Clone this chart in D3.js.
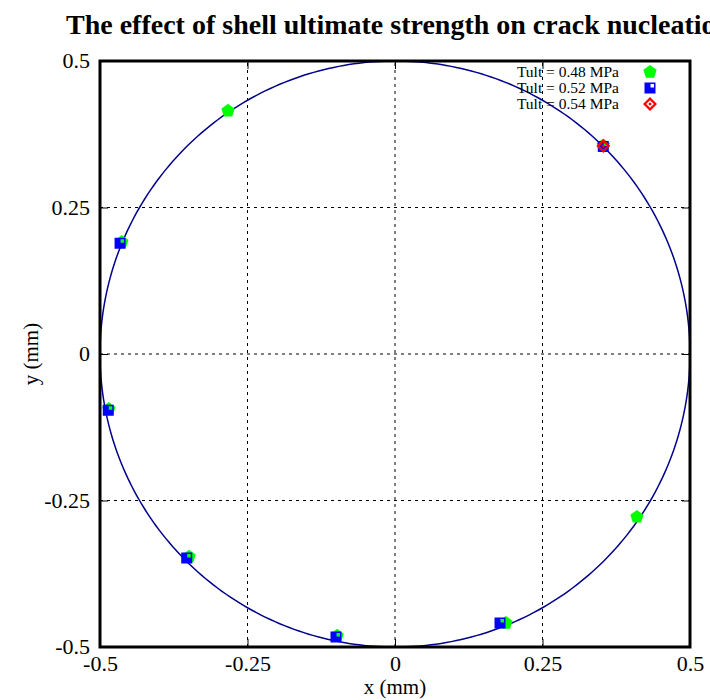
<!DOCTYPE html>
<html>
<head>
<meta charset="utf-8">
<script src="https://cdn.jsdelivr.net/npm/d3@7"></script>
<style>
  body { margin: 0; background: #fff; }
  text { font-family: "Liberation Serif", "DejaVu Serif", serif; }
</style>
</head>
<body>
<svg id="chart" width="710" height="700"></svg>
<script>
// data (mm)
const series_names = ["Tult = 0.48 MPa", "Tult = 0.52 MPa", "Tult = 0.54 MPa"];
const tult_048 = [
  [-0.283, 0.415], [0.353, 0.356], [0.410, -0.278], [0.188, -0.459],
  [-0.463, 0.191], [-0.485, -0.094], [-0.349, -0.346], [-0.098, -0.481]
];
const tult_052 = [
  [-0.466, 0.189], [-0.486, -0.096], [-0.353, -0.348], [-0.100, -0.483],
  [0.178, -0.459], [0.353, 0.354]
];
const tult_054 = [[0.353, 0.355]];
const tick_values = [-0.5, -0.25, 0, 0.25, 0.5];
const tick_labels = ["-0.5", "-0.25", "0", "0.25", "0.5"];
const circle_radius = 0.5;

const svg = d3.select("#chart");
const x = d3.scaleLinear().domain([-0.5, 0.5]).range([100, 690]);
const y = d3.scaleLinear().domain([-0.5, 0.5]).range([647, 61]);

// title (runs off the right edge, as in the original)
svg.append("text")
  .attr("x", 66).attr("y", 34)
  .attr("font-size", 28).attr("font-weight", "bold")
  .text("The effect of shell ultimate strength on crack nucleation");

// grid
const grid = svg.append("g").attr("stroke", "#000").attr("stroke-width", 1)
  .attr("stroke-dasharray", "3,4");
tick_values.slice(1, -1).forEach(t => {
  grid.append("line").attr("x1", x(t)).attr("x2", x(t)).attr("y1", y(-0.5)).attr("y2", y(0.5));
  grid.append("line").attr("y1", y(t)).attr("y2", y(t)).attr("x1", x(-0.5)).attr("x2", x(0.5));
});

// axes with inward ticks
const fmt = d => tick_labels[tick_values.indexOf(d)];
function style_axis(g){
  g.select(".domain").remove();
  g.selectAll("line").attr("stroke", "#000").attr("stroke-width", 1);
  g.selectAll("text").attr("font-size", 22).attr("fill", "#000")
    .attr("font-family", "Liberation Serif");
}
svg.append("g").attr("transform", "translate(0," + y(-0.5) + ")")
  .call(d3.axisBottom(x).tickValues(tick_values).tickFormat(fmt).tickSizeInner(-8).tickPadding(8))
  .call(style_axis);
svg.append("g").attr("transform", "translate(" + x(-0.5) + ",0)")
  .call(d3.axisLeft(y).tickValues(tick_values).tickFormat(fmt).tickSizeInner(-8).tickPadding(10))
  .call(style_axis)
  .selectAll("text").attr("dy", "0.3em");
svg.append("g").attr("transform", "translate(0," + y(0.5) + ")")
  .call(d3.axisTop(x).tickValues(tick_values).tickFormat("").tickSizeInner(-8))
  .call(style_axis);
svg.append("g").attr("transform", "translate(" + x(0.5) + ",0)")
  .call(d3.axisRight(y).tickValues(tick_values).tickFormat("").tickSizeInner(-8))
  .call(style_axis);

// axis labels
svg.append("text").attr("x", x(0)).attr("y", 694).attr("text-anchor", "middle")
  .attr("font-size", 21).text("x (mm)");
svg.append("text").attr("transform", "translate(38," + y(0) + ") rotate(-90)")
  .attr("text-anchor", "middle").attr("font-size", 21).text("y (mm)");

// circle (shell outline)
const angles = d3.range(0, 361, 1).map(a => a * Math.PI / 180);
svg.append("path")
  .datum(angles)
  .attr("fill", "none").attr("stroke", "#00008b").attr("stroke-width", 1.5)
  .attr("d", d3.line()
    .x(a => x(circle_radius * Math.cos(a)))
    .y(a => y(circle_radius * Math.sin(a))));

// markers
function pentagon(g){
  g.append("path").attr("fill", "#00ff00")
    .attr("d", d3.symbol().type({draw(ctx, size){
      const r = 7;
      for (let i = 0; i < 5; i++){
        const a = -Math.PI / 2 + i * 2 * Math.PI / 5;
        i ? ctx.lineTo(r * Math.cos(a), r * Math.sin(a)) : ctx.moveTo(r * Math.cos(a), r * Math.sin(a));
      }
      ctx.closePath();
    }})());
}
function holed_square(g){
  g.append("path").attr("fill", "#0000ff").attr("fill-rule", "evenodd")
    .attr("d", "M-5.5,-5.5H5.5V5.5H-5.5Z M0.5,-4H4V-0.5H0.5Z");
}
function diamond(g){
  g.append("path").attr("fill", "#ff0000").attr("fill-rule", "evenodd")
    .attr("d", "M0,-7L7,0L0,7L-7,0Z M0,-3.8L3.8,0L0,3.8L-3.8,0Z");
  g.append("path").attr("fill", "#ff0000").attr("d", "M0,-1.8L1.8,0L0,1.8L-1.8,0Z");
}

const layers = [[tult_048, pentagon], [tult_052, holed_square], [tult_054, diamond]];
layers.forEach(([data, draw]) => {
  svg.append("g").selectAll("g").data(data).enter().append("g")
    .attr("transform", d => "translate(" + x(d[0]) + "," + y(d[1]) + ")")
    .each(function(){ draw(d3.select(this)); });
});

// frame
svg.append("rect")
  .attr("x", x(-0.5)).attr("y", y(0.5))
  .attr("width", x(0.5) - x(-0.5)).attr("height", y(-0.5) - y(0.5))
  .attr("fill", "none").attr("stroke", "#000").attr("stroke-width", 3);

// legend
const legend = svg.append("g");
series_names.forEach((name, i) => {
  const row = legend.append("g").attr("transform", "translate(0," + (72 + i * 16) + ")");
  row.append("text").attr("x", 619).attr("y", 5).attr("text-anchor", "end")
    .attr("font-size", 15.5).text(name);
  const m = row.append("g").attr("transform", "translate(650,0)");
  layers[i][1](m);
});
</script>
</body>
</html>
